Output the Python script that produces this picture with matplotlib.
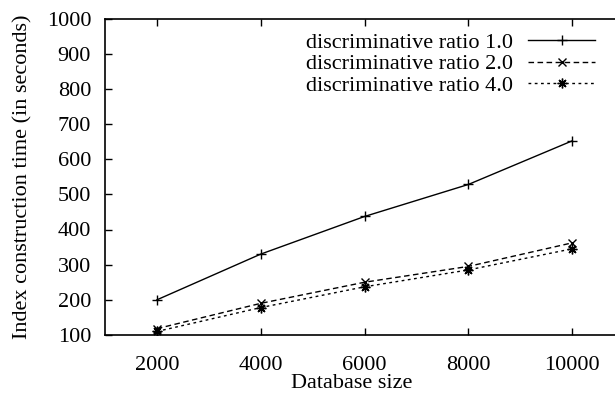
import matplotlib
matplotlib.use("Agg")
import matplotlib.pyplot as plt

plt.rcParams['font.family'] = ['Liberation Serif', 'DejaVu Serif']

db_size = [2000, 4000, 6000, 8000, 10000]
ratio_1 = [200, 330, 437, 528, 652]
ratio_2 = [118, 190, 250, 295, 362]
ratio_4 = [110, 178, 237, 285, 345]
labels = ['discriminative ratio 1.0', 'discriminative ratio 2.0', 'discriminative ratio 4.0']

fs = 16

fig = plt.figure(figsize=(6.15, 3.97), dpi=100)
# axes runs past the right edge of the figure, as in the reference
ax = fig.add_axes([105 / 615, 62 / 397, 519 / 615, 316.5 / 397])

ax.plot(db_size, ratio_1, color='black', lw=1, ls='-', marker='+', ms=7, mew=1, label=labels[0])
ax.plot(db_size, ratio_2, color='black', lw=1, ls=(0, (4, 2.5)), marker='x', ms=6, mew=1, label=labels[1])
ax.plot(db_size, ratio_4, color='black', lw=1, ls=(0, (2, 2.5)), marker=(8, 2, 0), ms=7, mew=1, label=labels[2])

ax.set_xlim(1000, 11000)
ax.set_ylim(100, 1000)
ax.set_xticks(db_size)
ax.set_yticks(range(100, 1001, 100))
ax.tick_params(direction='in', top=True, right=True, labelsize=fs, length=5, width=1)
ax.tick_params(axis='x', pad=15)
ax.tick_params(axis='y', pad=10)
for s in ax.spines.values():
    s.set_linewidth(1.2)

ax.set_xlabel('Database size', fontsize=fs)
ax.xaxis.set_label_coords(0.476, -0.123)
ax.set_ylabel('Index construction time (in seconds)', fontsize=fs)
ax.yaxis.set_label_coords(-0.139, 0.5)

leg = ax.legend(loc='upper right', bbox_to_anchor=(0.961, 0.985), frameon=False, fontsize=fs,
                markerfirst=False, handlelength=3.0, labelspacing=0.05, handletextpad=0.7,
                borderaxespad=0)
for t in leg.get_texts():
    t.set_ha('right')

fig.savefig('out.png', dpi=100)
